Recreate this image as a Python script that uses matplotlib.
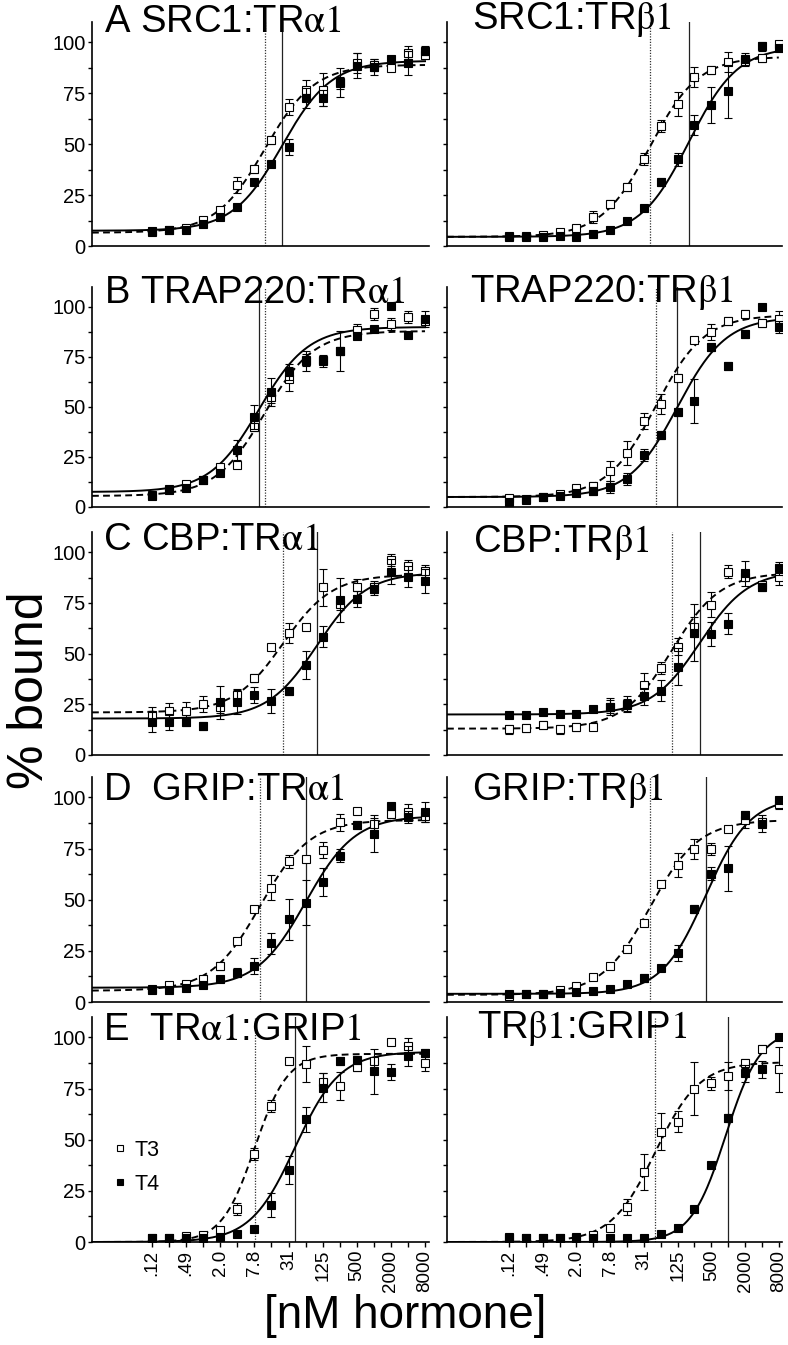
import numpy as np
import matplotlib
matplotlib.use('Agg')
import matplotlib.pyplot as plt
from matplotlib.ticker import FixedLocator, NullFormatter, FixedFormatter
from matplotlib.lines import Line2D

plt.rcParams['font.family'] = ['Liberation Sans', 'DejaVu Sans']
plt.rcParams['mathtext.fontset'] = 'stix'

# ---------------- data ----------------
conc = [0.122, 0.244, 0.488, 0.977, 1.95, 3.91, 7.81, 15.6, 31.25, 62.5,
        125, 250, 500, 1000, 2000, 4000, 8000]
xtick_vals = [0.122, 0.488, 1.95, 7.81, 31.25, 125, 500, 2000, 8000]
xtick_labels = ['.12', '.49', '2.0', '7.8', '31', '125', '500', '2000', '8000']
xminor_vals = [0.244, 0.977, 3.91, 15.6, 62.5, 250, 1000, 4000]
ytick_vals = [0, 25, 50, 75, 100]
yminor_vals = [12.5, 37.5, 62.5, 87.5]

titles_left = ["A SRC1:TR$\\mathrm{\\alpha1}$", "B TRAP220:TR$\\mathrm{\\alpha1}$",
               "C CBP:TR$\\mathrm{\\alpha1}$", "D  GRIP:TR$\\mathrm{\\alpha1}$",
               "E  TR$\\mathrm{\\alpha1}$:GRIP$\\mathrm{1}$"]
titles_right = ["SRC1:TR$\\mathrm{\\beta1}$", "TRAP220:TR$\\mathrm{\\beta1}$",
                "CBP:TR$\\mathrm{\\beta1}$", "GRIP:TR$\\mathrm{\\beta1}$",
                "TR$\\mathrm{\\beta1}$:GRIP$\\mathrm{1}$"]

# Panel A, TRalpha1
a_a_t3 = [7, 8, 9, 12.8, 17.5, 29.8, 38, 51.9, 68.4, 76.6, 76.8, 80, 89.8, 89, 87.5, 95, 94]
a_a_t3e = [1, 1, 1, 1, 1.5, 4, 2, 2, 4, 5, 8, 3, 5, 3, 1, 3, 2]
a_a_t4 = [7.4, 7.9, 7.9, 10.7, 14.2, 19.1, 31.3, 40.5, 48.6, 72.7, 72.7, 80.4, 88.6, 87.8, 91.9, 90, 96]
a_a_t4e = [1, 1, 1, 1, 1, 1, 1, 1, 4, 5, 4, 7, 6, 4, 1, 6, 2]
# Panel A, TRbeta1
a_b_t3 = [4.9, 5, 5.4, 6.8, 8.7, 14.2, 20.8, 28.8, 42.8, 59, 69.7, 82.9, 86.5, 90.3, 91, 92.4, 99]
a_b_t3e = [1, 1, 1, 1, 1, 3, 2, 2, 3, 3, 6, 5, 2, 5, 1, 2, 1]
a_b_t4 = [4.6, 4.6, 4.6, 4.9, 4.6, 5.8, 7.9, 12.4, 18.6, 31.3, 42.5, 59.5, 69.2, 76, 91.6, 98, 97.4]
a_b_t4e = [1, 1, 1, 1, 1, 1, 1, 1, 1, 2, 3, 5, 9, 13, 3, 2, 1]
# Panel B, TRalpha1
b_a_t3 = [6, 9.2, 11.3, 13.7, 20, 21.2, 40, 55, 64, 73.3, 73.3, 78, 88.3, 96.7, 91.7, 95, 93]
b_a_t3e = [1, 1, 1, 1, 1, 1, 2, 3, 6, 3, 2, 2, 3, 3, 3, 3, 2]
b_a_t4 = [5.5, 8.7, 9.5, 13.3, 17, 28.3, 45, 57.5, 67.5, 72.8, 72.8, 78, 85.5, 88.8, 100.3, 86, 94.2]
b_a_t4e = [1, 1, 1, 1, 1, 5, 6, 7, 4, 5, 3, 10, 1, 1, 1, 1, 4]
# Panel B, TRbeta1
b_b_t3 = [4.5, 3.3, 4.9, 6.6, 9.6, 10.7, 18.1, 27.2, 42.8, 51.6, 64.7, 83.7, 87.3, 93, 96.4, 92, 94.2]
b_b_t3e = [1, 1, 1, 1, 1, 2, 5, 6, 4, 5, 2, 1, 4, 2, 2, 2, 4]
b_b_t4 = [2.5, 4.1, 4.9, 5.3, 6.9, 8.2, 10.2, 14, 26, 36.2, 47.3, 53.2, 80.2, 70.5, 86.5, 100, 89.8]
b_b_t4e = [1, 1, 1, 1, 1, 2, 3, 3, 3, 2, 2, 11, 2, 2, 2, 1, 3]
# Panel C, TRalpha1
c_a_t3 = [19.7, 21.5, 21.9, 25.2, 23.5, 29.6, 38.2, 53.5, 60.2, 63, 82.7, 74.3, 82.7, 83, 96, 93, 90.6]
c_a_t3e = [4, 4, 4, 4, 3, 3, 2, 1, 5, 1, 9, 3, 4, 3, 3, 3, 3]
c_a_t4 = [16.4, 16.1, 16.1, 14.3, 26, 26, 29.6, 26.6, 31.7, 44.4, 58.4, 76.5, 77, 81.7, 90.5, 88, 85.7]
c_a_t4e = [5, 4, 2, 2, 8, 6, 4, 6, 2, 7, 5, 11, 4, 3, 6, 5, 6]
# Panel C, TRbeta1
c_b_t3 = [12.6, 13.2, 15, 12.6, 13.9, 13.9, 23.9, 24.5, 34.6, 42.8, 53.5, 63.2, 74.2, 90.5, 88, 84, 88]
c_b_t3e = [2, 2, 2, 2, 2, 1, 3, 3, 6, 3, 4, 5, 6, 3, 2, 2, 4]
c_b_t4 = [19.6, 19.9, 21, 20.2, 20.2, 22.6, 23.9, 25, 28.9, 31.8, 43.6, 60.3, 59.7, 64.8, 89.6, 83, 92]
c_b_t4e = [1, 1, 1, 1, 1, 1, 4, 4, 4, 5, 9, 14, 6, 5, 6, 2, 3]
# Panel D, TRalpha1
d_a_t3 = [6.5, 8.1, 8.9, 11.3, 17.7, 29.8, 45.7, 55.9, 68.7, 69.7, 74.4, 87.8, 93.5, 87, 91.9, 92.8, 91]
d_a_t3e = [1, 1, 1, 1, 2, 1, 1, 6, 3, 1, 4, 4, 1, 3, 2, 4, 3]
d_a_t4 = [5.7, 6, 6.8, 8.4, 11.2, 14.4, 17.7, 28.7, 40.4, 48.6, 58.7, 71.6, 86.7, 82.2, 96, 90.4, 92.8]
d_a_t4e = [1, 1, 1, 1, 1, 2, 4, 5, 10, 11, 7, 3, 2, 9, 1, 3, 5]
# Panel D, TRbeta1
d_b_t3 = [2.9, 4, 4.1, 5.7, 7.8, 12.2, 17.6, 26.1, 38.8, 57.9, 66.9, 74.7, 74.7, 84.5, 88.9, 88.1, 96.6]
d_b_t3e = [1, 1, 1, 1, 1, 1, 1, 1, 1, 1, 6, 5, 3, 1, 4, 2, 2]
d_b_t4 = [4.1, 4.1, 4.1, 4.4, 4.9, 5.4, 6.5, 8.6, 11.7, 16.6, 24.1, 45.3, 62.8, 65.5, 91.3, 87.2, 98.7]
d_b_t4e = [1, 1, 1, 1, 1, 1, 1, 1, 2, 1, 4, 2, 3, 11, 2, 4, 1]
# Panel E, TRalpha1
e_a_t3 = [2, 2, 2.8, 3.6, 6, 16.2, 43, 66.5, 88.3, 87, 78.4, 76.2, 85.7, 88.7, 98, 95.8, 87.6]
e_a_t3e = [0.5, 0.5, 0.5, 0.5, 1, 3, 3, 3, 1, 9, 4, 7, 2, 1, 1, 4, 4]
e_a_t4 = [1.9, 1.9, 1.9, 1.9, 2.4, 3.9, 6.5, 18.2, 35.2, 60, 75.4, 88.3, 89, 83.5, 83, 90.9, 92.4]
e_a_t4e = [0.5, 0.5, 0.5, 0.5, 1, 1, 1, 6, 7, 6, 7, 2, 2, 11, 4, 5, 2]
# Panel E, TRbeta1
e_b_t3 = [2.6, 2, 2, 2, 2.3, 3.5, 6.7, 17.1, 34.2, 53.9, 58.9, 75, 77.5, 81.1, 87.3, 94.2, 84.4]
e_b_t3e = [0.5, 0.5, 0.5, 0.5, 0.5, 1, 1, 4, 9, 9, 5, 13, 3, 7, 2, 2, 11]
e_b_t4 = [2.1, 2.1, 2.1, 1.8, 2.1, 1.8, 2.1, 1.8, 2.1, 3.8, 6.7, 16.3, 37.7, 60.5, 82.4, 84.4, 100]
e_b_t4e = [0.5, 0.5, 0.5, 0.5, 0.5, 0.5, 0.5, 0.5, 0.5, 1, 1, 1, 1, 2, 4, 4, 1]

# fitted dose-response parameters: (bottom, top, EC50 nM, Hill slope)
fit_t3_left = [(6.5, 89, 12, 1.0), (5.5, 88, 11.8, 1.0), (21, 89, 25, 1.0),
               (5.5, 89, 10, 1.0), (0, 92, 7.9, 1.5)]
fit_t4_left = [(7.5, 91, 24, 1.0), (7.5, 90, 9.4, 1.0), (18, 90, 99, 1.0),
               (7, 91, 63, 1.0), (0, 93, 41, 1.1)]
fit_t3_right = [(4.5, 93, 40, 1.0), (5, 96, 51, 1.0), (13, 90, 98, 1.0),
                (3.5, 89, 40, 1.0), (0, 88, 50, 1.1)]
fit_t4_right = [(4.5, 98, 200, 1.0), (5, 95, 124, 1.0), (20, 91, 314, 1.0),
                (4, 100, 395, 1.1), (0, 104, 900, 1.4)]
# EC50 markers (dotted = T3, solid = T4)
ec50_t3_left = [12, 11.8, 25.4, 10, 7.9]
ec50_t4_left = [24, 9.4, 99, 63, 41]
ec50_t3_right = [40, 51, 98, 40, 49.7]
ec50_t4_right = [200, 124, 314, 395, 990]

left_sets = [(a_a_t3, a_a_t3e, a_a_t4, a_a_t4e), (b_a_t3, b_a_t3e, b_a_t4, b_a_t4e),
             (c_a_t3, c_a_t3e, c_a_t4, c_a_t4e), (d_a_t3, d_a_t3e, d_a_t4, d_a_t4e),
             (e_a_t3, e_a_t3e, e_a_t4, e_a_t4e)]
right_sets = [(a_b_t3, a_b_t3e, a_b_t4, a_b_t4e), (b_b_t3, b_b_t3e, b_b_t4, b_b_t4e),
              (c_b_t3, c_b_t3e, c_b_t4, c_b_t4e), (d_b_t3, d_b_t3e, d_b_t4, d_b_t4e),
              (e_b_t3, e_b_t3e, e_b_t4, e_b_t4e)]

# ---------------- layout ----------------
W, H = 788, 1345
fig = plt.figure(figsize=(W / 100, H / 100), dpi=100)

col_px = [(92, 429), (447, 782)]
row_px = [(246, 22), (507, 287), (755, 532), (1002, 777), (1242, 1017)]
xlims = [(0.01065, 9400), (0.00955, 9120)]
title_base_left = [32, 303, 550, 800, 1040]
title_base_right = [29, 302, 552, 800, 1038]
title_x_left = [104, 104, 103, 103, 103]
title_x_right = [472, 470, 473, 472, 477]


def hill(x, p):
    b, t, ec, h = p
    return b + (t - b) / (1 + (ec / x) ** h)


def draw_panel(ax, sets, f3, f4, e3, e4, col, bottom_row):
    t3, t3e, t4, t4e = sets
    xs = np.logspace(np.log10(xlims[col][0]), np.log10(8000), 400)
    ax.axvline(e3, color='#333333', lw=0.9, ls=(0, (1, 1.2)), zorder=1)
    ax.axvline(e4, color='#222222', lw=0.9, ls='-', zorder=1)
    ax.plot(xs, hill(xs, f3), color='black', lw=1.4, ls=(0, (3.5, 2.2)), zorder=2)
    ax.plot(xs, hill(xs, f4), color='black', lw=1.4, ls='-', zorder=2)
    ax.errorbar(conc, t3, yerr=t3e, fmt='s', ms=5.6, mfc='white', mec='black',
                mew=0.8, ecolor='black', elinewidth=0.8, capsize=3.2, capthick=0.8,
                zorder=3)
    ax.errorbar(conc, t4, yerr=t4e, fmt='s', ms=5.6, mfc='black', mec='black',
                mew=0.8, ecolor='black', elinewidth=0.8, capsize=3.2, capthick=0.8,
                zorder=4)
    ax.set_xscale('log')
    ax.set_xlim(*xlims[col])
    ax.set_ylim(0, 110)
    for s in ['top', 'right']:
        ax.spines[s].set_visible(False)
    for s in ['left', 'bottom']:
        ax.spines[s].set_linewidth(1.2)
    ax.yaxis.set_major_locator(FixedLocator(ytick_vals))
    ax.yaxis.set_minor_locator(FixedLocator(yminor_vals))
    ax.tick_params(axis='y', which='both', direction='out', length=3.2, width=1.0,
                   labelsize=14.5, pad=1.5)
    if col == 1:
        ax.yaxis.set_major_formatter(NullFormatter())
    if bottom_row:
        ax.xaxis.set_major_locator(FixedLocator(xtick_vals))
        ax.xaxis.set_major_formatter(FixedFormatter(xtick_labels))
        ax.xaxis.set_minor_locator(FixedLocator(xminor_vals))
        ax.xaxis.set_minor_formatter(NullFormatter())
        ax.tick_params(axis='x', which='both', direction='out', length=3.5, width=1.0,
                       labelsize=13.5, pad=2, labelrotation=90)
    else:
        ax.xaxis.set_major_locator(FixedLocator([]))
        ax.xaxis.set_minor_locator(FixedLocator([]))


for r in range(5):
    yb, yt = row_px[r]
    for col in range(2):
        x0, x1 = col_px[col]
        ax = fig.add_axes([x0 / W, 1 - yb / H, (x1 - x0) / W, (yb - yt) / H])
        if col == 0:
            draw_panel(ax, left_sets[r], fit_t3_left[r], fit_t4_left[r],
                       ec50_t3_left[r], ec50_t4_left[r], 0, r == 4)
            fig.text(title_x_left[r] / W, 1 - title_base_left[r] / H, titles_left[r],
                     fontsize=27.5, va='baseline', ha='left')
            if r == 4:
                handles = [Line2D([], [], ls='none', marker='s', ms=5, mfc='white',
                                  mec='black', mew=0.8),
                           Line2D([], [], ls='none', marker='s', ms=5, mfc='black',
                                  mec='black', mew=0.8)]
                ax.legend(handles, ['T3', 'T4'], loc='upper left',
                          bbox_to_anchor=(0.06, 0.455), frameon=False, fontsize=15.5,
                          handlelength=0.7, handletextpad=0.35, labelspacing=0.6,
                          borderpad=0, borderaxespad=0)
        else:
            draw_panel(ax, right_sets[r], fit_t3_right[r], fit_t4_right[r],
                       ec50_t3_right[r], ec50_t4_right[r], 1, r == 4)
            fig.text(title_x_right[r] / W, 1 - title_base_right[r] / H, titles_right[r],
                     fontsize=27.5, va='baseline', ha='left')

fig.text(30 / W, 1 - 690 / H, '% bound', rotation=90, fontsize=36,
         ha='center', va='center')
fig.text(405 / W, 1 - 1316 / H, '[nM hormone]', fontsize=33, ha='center', va='center')

fig.savefig('out.png', dpi=100)
